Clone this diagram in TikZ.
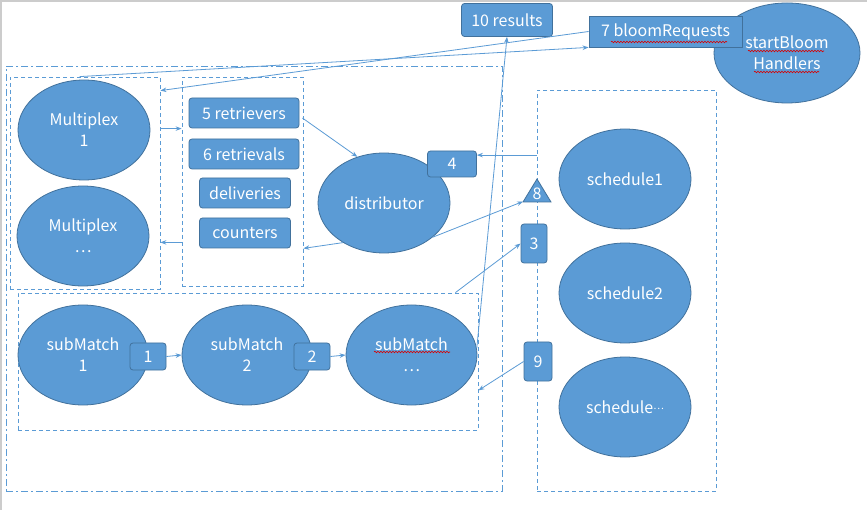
\documentclass[tikz,border=0pt]{standalone}
\usepackage{fontspec}
\setmainfont{Noto Sans CJK SC}
\usetikzlibrary{shapes.geometric,arrows.meta,calc,decorations.pathmorphing}
\definecolor{blu}{HTML}{5B9BD5}
\definecolor{bord}{HTML}{41719C}
\newcommand{\fsz}{\fontsize{16}{21}\selectfont}
\tikzset{
 ell/.style={ellipse, draw=bord, line width=0.8pt, fill=blu, minimum width=132pt, minimum height=100pt, inner sep=0pt, text=white, align=center, font=\fsz},
 rbox/.style={rectangle, rounded corners=3pt, draw=bord, line width=0.8pt, fill=blu, text=white, inner sep=0pt, font=\fsz},
 ln/.style={draw=blu, line width=0.8pt},
 arr/.style={ln, -{Stealth[length=6pt,width=4.5pt]}},
 dsh/.style={draw=blu, line width=0.8pt, dash pattern=on 4pt off 3pt, inner sep=0pt},
 dshdot/.style={draw=blu, line width=0.8pt, dash pattern=on 7pt off 3pt on 2pt off 3pt, inner sep=0pt},
 squig/.style={draw=red!85!black, line width=0.6pt, decorate, decoration={snake, segment length=3pt, amplitude=0.8pt}},
}
\begin{document}
\begin{tikzpicture}[x=1pt,y=-1pt]
\useasboundingbox (0,0) rectangle (867,510);
\fill[white] (0,0) rectangle (867,510);
\draw[gray!40, line width=2pt] (0,1.5) -- (867,1.5);
\draw[gray!40, line width=2pt] (1,0) -- (1,510);

% containers
\node[dshdot, minimum width=496pt, minimum height=425pt] (outer) at (254,278.5) {};
\node[dsh, minimum width=150pt, minimum height=212pt] (mpxbox) at (85,183) {};
\node[dsh, minimum width=121pt, minimum height=209pt] (retbox) at (242.5,181.5) {};
\node[dsh, minimum width=460pt, minimum height=137pt] (subbox) at (248,361.5) {};
\node[dsh, minimum width=179pt, minimum height=401pt] (schedbox) at (626.5,290.5) {};

% nodes
\node[ell] (m1) at (84,130) {Multiplex\\1};
\node[ell] (m2) at (83,236) {Multiplex\\…};
\node[rbox, minimum width=110pt, minimum height=30pt] (r5) at (244,113) {5 retrievers};
\node[rbox, minimum width=110pt, minimum height=30pt] (r6) at (244,154) {6 retrievals};
\node[rbox, minimum width=91pt, minimum height=30pt] (del) at (245,193) {deliveries};
\node[rbox, minimum width=91pt, minimum height=30pt] (cnt) at (245,233) {counters};
\node[ell] (dist) at (384,203) {distributor};
\node[rbox, minimum width=49pt, minimum height=26pt] (b4) at (452,164) {4};

\node[ell] (s1) at (625,179) {schedule1};
\node[ell] (s2) at (625,293) {schedule2};
\node[ell] (s3) at (625,407) {schedule\raisebox{4pt}{\fontsize{10}{10}\selectfont …}};

\draw[draw=bord, fill=blu, line width=0.8pt] (523,202) -- (537,179) -- (551,202) -- cycle;
\coordinate (t8w) at (523,201.5);
\node[text=white, font=\fsz, inner sep=0pt] (t8) at (537,194) {8};

\node[rbox, minimum width=26pt, minimum height=39pt] (b3) at (534,243.5) {3};
\node[rbox, minimum width=28pt, minimum height=39pt] (b9) at (538,361.5) {9};

\node[ell, minimum width=130pt] (sm1) at (83,355) {subMatch\\1};
\node[ell, minimum width=130pt] (sm2) at (247,355) {subMatch\\2};
\node[ell, minimum width=131pt] (sm3) at (411.5,355) {subMatch\\…};
\node[rbox, minimum width=36pt, minimum height=27pt] (b1) at (148,356.5) {1};
\node[rbox, minimum width=36pt, minimum height=27pt] (b2) at (312,356.5) {2};

\node[rbox, minimum width=91pt, minimum height=33pt] (b10) at (507,20) {10 results};
\node[ell, minimum width=146pt, minimum height=100pt] (sb) at (787,53) {startBloom\\Handlers};
\node[rectangle, draw=bord, line width=0.8pt, fill=blu, text=white, inner sep=0pt, font=\fsz, minimum width=153pt, minimum height=31pt] (b7) at (665.5,31.5) {7 bloomRequests};

% spell-check squiggles
\draw[squig] (611,42) -- (727,42);
\draw[squig] (748,51) -- (824,51);
\draw[squig] (754,72) -- (819,72);
\draw[squig] (374,352) -- (450,352);

% connectors
\draw[arr] (b7.west) -- ($(mpxbox.north east)+(0,14)$);
\draw[arr] ($(mpxbox.north west)+(70,0)$) -- (b7.south west);
\draw[arr] ($(mpxbox.north east)+(0,52)$) -- ($(retbox.north west)+(0,52)$);
\draw[arr] ($(retbox.south west)+(0,-44)$) -- ($(mpxbox.south east)+(0,-47)$);
\draw[arr] ($(r5.east)+(3,5)$) -- (dist.120);
\draw[arr] (dist.224) -- ($(retbox.south east)+(0,-38)$);
\draw[arr] (dist.-35) -- (t8w);
\draw[arr] ($(schedbox.north west)+(0,65.5)$) -- ($(b4.north east)+(0,4.5)$);
\draw[arr] ($(subbox.north east)+(-23,0)$) -- (b3.west);
\draw[arr] (b9.west) -- ($(subbox.south east)+(0,-40)$);
\draw[arr] (sm3.6) -- (b10.south);
\draw[arr] (b1.east) -- (sm2.west);
\draw[arr] (b2.east) -- (sm3.west);
\end{tikzpicture}
\end{document}
